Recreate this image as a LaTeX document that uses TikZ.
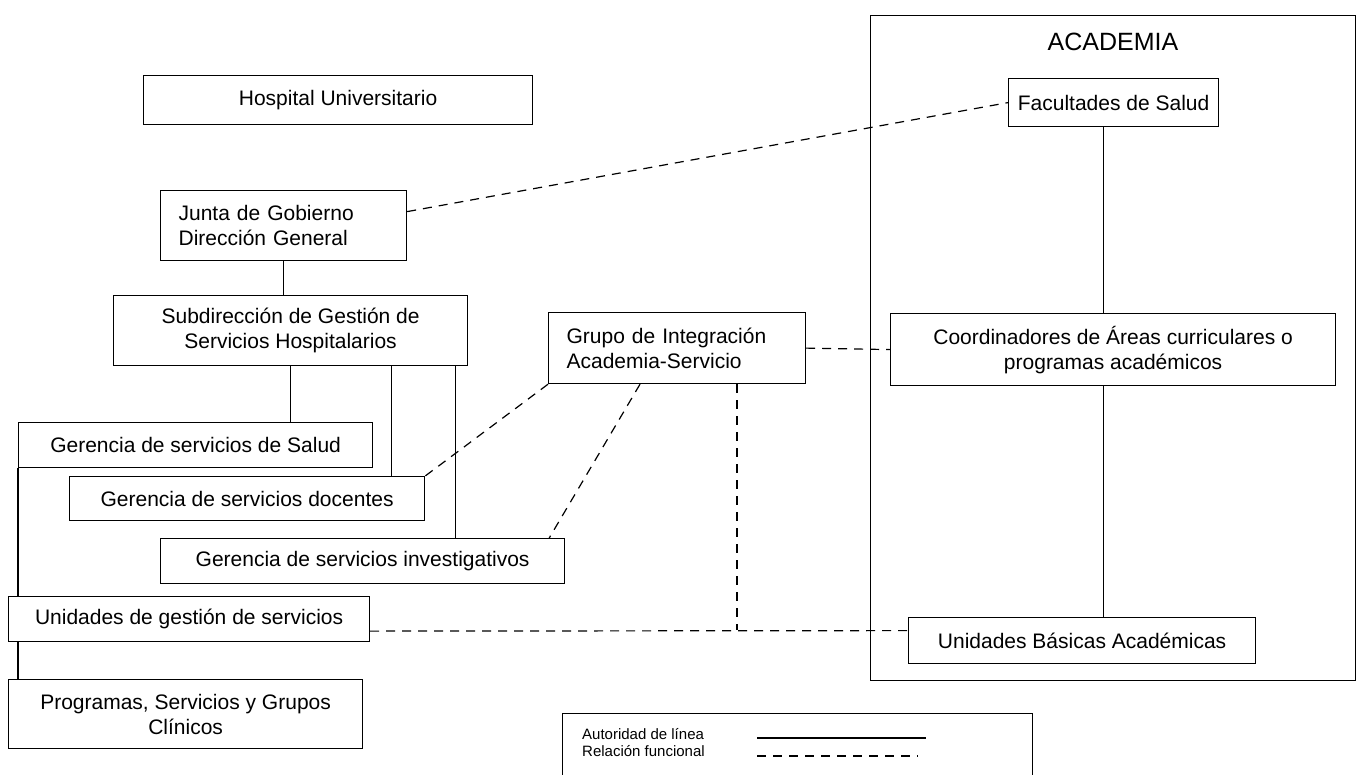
\documentclass[tikz,border=0pt]{standalone}
\usepackage{fontspec}
\setmainfont{Liberation Sans}
\usetikzlibrary{positioning}
\tikzstyle{caja}=[draw, rectangle, line width=1.2pt, inner sep=4pt, align=center, font=\fontsize{21}{25}\selectfont, anchor=north west]
\tikzstyle{cajaizq}=[caja, align=left, inner xsep=18pt]
\tikzstyle{aut}=[line width=1.2pt]
\tikzstyle{rel}=[line width=1.2pt, dash pattern=on 9pt off 7pt]

\begin{document}
\begin{tikzpicture}[x=1pt, y=-1pt]
	\useasboundingbox (0,0) rectangle (1367,774);
	% lado hospital
	\node[caja, minimum width=389pt, minimum height=49pt] (hosp) at (143,75) {Hospital Universitario};
	\node[cajaizq, text width=210pt, minimum height=70pt] (junta) at (160,190) {Junta de Gobierno\\Dirección General};
	\node[caja, minimum width=354pt, minimum height=70pt] (subdir) at (113,295) {Subdirección de Gestión de\\Servicios Hospitalarios};
	\node[caja, minimum width=354pt, minimum height=45pt] (salud) at (18,422) {Gerencia de servicios de Salud};
	\node[caja, minimum width=355pt, minimum height=44pt] (docen) at (69,476) {Gerencia de servicios docentes};
	\node[caja, minimum width=404pt, minimum height=45pt] (inves) at (160,538) {Gerencia de servicios investigativos};
	\node[caja, minimum width=361pt, minimum height=45pt] (ungest) at (8,596) {Unidades de gestión de servicios};
	\node[caja, minimum width=354pt, minimum height=69pt] (prog) at (8,679) {Programas, Servicios y Grupos\\Clínicos};
	\node[cajaizq, text width=221pt, minimum height=71pt] (grupo) at (548,312) {Grupo de Integración\\Academia-Servicio};
	% academia
	\node[caja, minimum width=485pt, minimum height=665pt] (acad) at (870,15) {};
	\node[font=\fontsize{25}{30}\selectfont] (acadtit) at (1113,42) {ACADEMIA};
	\node[caja, minimum width=210pt, minimum height=48pt] (facu) at (1008,78) {Facultades de Salud};
	\node[caja, minimum width=445pt, minimum height=72pt] (coord) at (890,313) {Coordinadores de Áreas curriculares o\\programas académicos};
	\node[caja, minimum width=347pt, minimum height=46pt] (ubas) at (908,617) {Unidades Básicas Académicas};
	% leyenda
	\node[caja, minimum width=470pt, minimum height=70pt] (ley) at (562,713) {};
	\node[anchor=north west, align=left, inner sep=0pt, font=\fontsize{15}{17}\selectfont] (leytxt) at (582,728) {Autoridad de línea\\Relación funcional};
	\coordinate (la) at (757,738);
	\coordinate (lb) at (926,738);
	\coordinate (lc) at (757,756);
	\coordinate (ld) at (918,756);

	\coordinate (d1) at ([xshift=-34pt]docen.north east);
	\coordinate (i1) at ([xshift=-110pt]inves.north east);
	\coordinate (u1) at ([xshift=10pt]ungest.south west);
	\coordinate (f1) at ([xshift=-10pt]facu.south);
	\coordinate (cruce) at (737,630);

	\draw[aut] (junta.south) -- (junta.south |- subdir.north);
	\draw[aut] (subdir.south) -- (subdir.south |- salud.north);
	\draw[aut] (d1) -- (d1 |- subdir.south);
	\draw[aut] (i1) -- (i1 |- subdir.south);
	\draw[aut] (salud.south west) -- (salud.south west |- ungest.north);
	\draw[aut] (u1) -- (u1 |- prog.north);
	\draw[aut] (f1) -- (f1 |- coord.north);
	\draw[aut] (f1 |- coord.south) -- (f1 |- ubas.north);
	\draw[aut] (la) -- (lb);

	\draw[rel] ([yshift=14pt]junta.east) -- (facu.west);
	\draw[rel] (grupo.east) -- (coord.west);
	\draw[rel] (grupo.south west) -- (docen.north east);
	\draw[rel] ([xshift=92pt]grupo.south west) -- ([xshift=-16pt]inves.north east);
	\draw[rel] (grupo.south -| cruce) -- (cruce);
	\draw[rel] ([yshift=-12pt]ungest.east) -- ([yshift=10pt]ubas.west);
	\draw[rel] (lc) -- (ld);
\end{tikzpicture}
\end{document}
